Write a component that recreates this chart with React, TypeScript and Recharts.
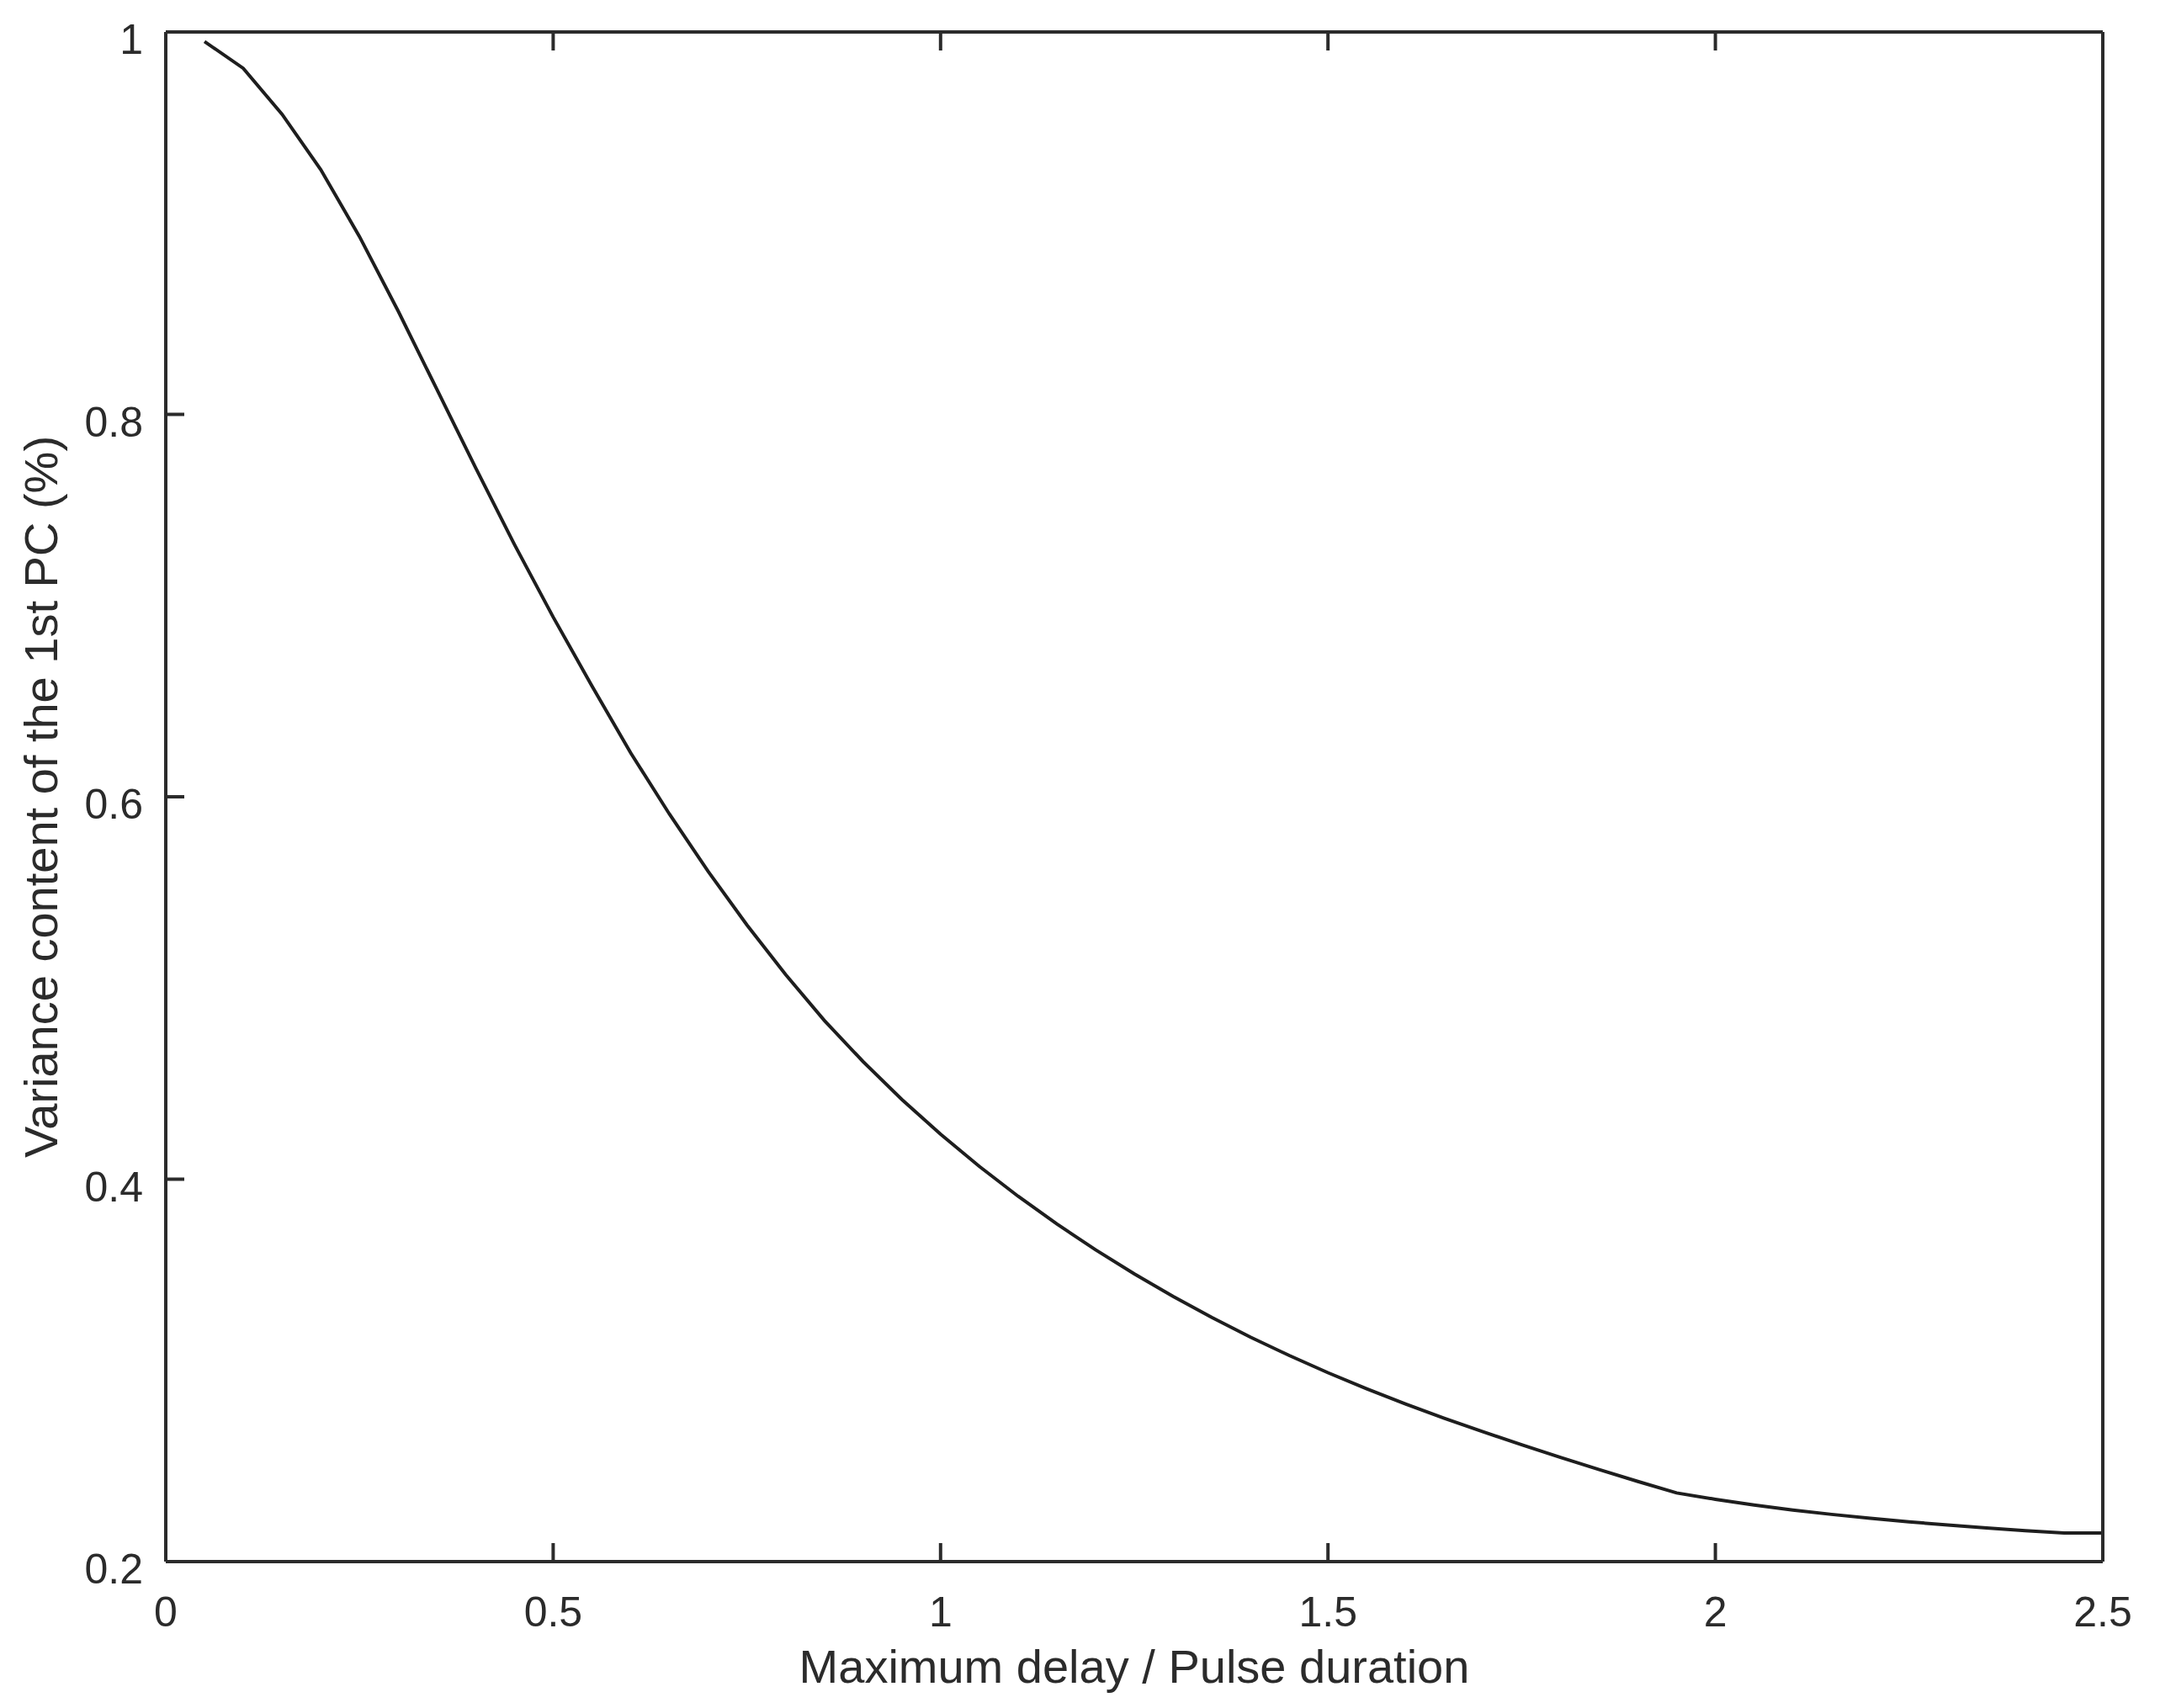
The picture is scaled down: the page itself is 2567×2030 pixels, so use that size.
import React from 'react';
import { LineChart, Line, XAxis, YAxis } from 'recharts';

// values
const delayRatio = [
  0.05, 0.1, 0.15, 0.2, 0.25, 0.3, 0.35, 0.4, 0.45, 0.5,
  0.55, 0.6, 0.65, 0.7, 0.75, 0.8, 0.85, 0.9, 0.95, 1.0,
  1.05, 1.1, 1.15, 1.2, 1.25, 1.3, 1.35, 1.4, 1.45, 1.5,
  1.55, 1.6, 1.65, 1.7, 1.75, 1.8, 1.85, 1.9, 1.95, 2.0,
  2.05, 2.1, 2.15, 2.2, 2.25, 2.3, 2.35, 2.4, 2.45, 2.5,
];
const varianceFirstPC = [
  0.995, 0.981, 0.957, 0.928, 0.893, 0.854, 0.813, 0.772, 0.732, 0.694,
  0.658, 0.623, 0.591, 0.561, 0.533, 0.507, 0.483, 0.4615, 0.4417, 0.4235,
  0.4067, 0.3911, 0.3766, 0.3631, 0.3505, 0.3387, 0.3277, 0.3174, 0.3078, 0.2988,
  0.2904, 0.2825, 0.275, 0.2679, 0.2611, 0.2545, 0.2481, 0.2419, 0.2359, 0.2326,
  0.2296, 0.227, 0.2247, 0.2227, 0.2208, 0.2191, 0.2176, 0.2162, 0.215, 0.215,
];
const xTicks = [0, 0.5, 1, 1.5, 2, 2.5];
const yTicks = [0.2, 0.4, 0.6, 0.8, 1];

const xTitle = 'Maximum delay / Pulse duration';
const yTitle = 'Variance content of the 1st PC (%)';

const data = delayRatio.map((x, i) => ({ x, y: varianceFirstPC[i] }));

const W = 2567;
const H = 2030;
// plot box: left 197, right 2499, top 38, bottom 1856 (axes take 1px each)
const margin = { top: 37, right: 67, bottom: 173, left: 196 };
const ink = '#2b2b2b';
const font = '"Liberation Sans", Arial, sans-serif';
const TICK = 22;
const frame = { stroke: ink, strokeWidth: 4 };

const BottomTick = (props: any) => {
  const { x, y, payload } = props;
  return (
    <g>
      <line x1={x} x2={x} y1={y} y2={y - TICK} stroke={ink} strokeWidth={4} />
      <text x={x} y={y + 77} textAnchor="middle" fontSize={50} fontFamily={font} fill={ink}>
        {String(payload.value)}
      </text>
    </g>
  );
};

const TopTick = (props: any) => {
  const { x, y } = props;
  return <line x1={x} x2={x} y1={y} y2={y + TICK} stroke={ink} strokeWidth={4} />;
};

const LeftTick = (props: any) => {
  const { x, y, payload } = props;
  return (
    <g>
      <line x1={x} x2={x + TICK} y1={y} y2={y} stroke={ink} strokeWidth={4} />
      <text x={x - 27} y={y + 26} textAnchor="end" fontSize={50} fontFamily={font} fill={ink}>
        {String(payload.value)}
      </text>
    </g>
  );
};

const RightTick = (props: any) => {
  const { x, y } = props;
  return <line x1={x} x2={x - TICK} y1={y} y2={y} stroke={ink} strokeWidth={4} />;
};

export default function App() {
  const plotLeft = margin.left + 1;
  const plotTop = margin.top + 1;
  const plotW = W - margin.right - 1 - plotLeft;
  const plotH = H - margin.bottom - 1 - plotTop;
  const cx = plotLeft + plotW / 2;
  const cy = plotTop + plotH / 2;
  return (
    <div style={{ width: W, height: H, background: '#fff' }}>
      <style>{'body{margin:0}'}</style>
      <LineChart width={W} height={H} data={data} margin={margin}>
        <XAxis
          dataKey="x"
          type="number"
          domain={[0, 2.5]}
          ticks={xTicks}
          height={1}
          tickSize={0}
          tickMargin={0}
          tickLine={false}
          axisLine={frame}
          tick={<BottomTick />}
          interval={0}
        />
        <XAxis
          xAxisId="top"
          orientation="top"
          dataKey="x"
          type="number"
          domain={[0, 2.5]}
          ticks={xTicks}
          height={1}
          tickSize={0}
          tickMargin={0}
          tickLine={false}
          axisLine={frame}
          tick={<TopTick />}
          interval={0}
        />
        <YAxis
          type="number"
          domain={[0.2, 1]}
          ticks={yTicks}
          width={1}
          tickSize={0}
          tickMargin={0}
          tickLine={false}
          axisLine={frame}
          tick={<LeftTick />}
          interval={0}
        />
        <YAxis
          yAxisId="right"
          orientation="right"
          type="number"
          domain={[0.2, 1]}
          ticks={yTicks}
          width={1}
          tickSize={0}
          tickMargin={0}
          tickLine={false}
          axisLine={frame}
          tick={<RightTick />}
          interval={0}
        />
        <Line
          type="linear"
          dataKey="y"
          stroke="#1e1e1e"
          strokeWidth={4}
          dot={false}
          isAnimationActive={false}
        />
        <text x={cx} y={2000} textAnchor="middle" fontSize={56} fontFamily={font} fill={ink}>
          {xTitle}
        </text>
        <text
          x={68}
          y={cy}
          transform={`rotate(-90, 68, ${cy})`}
          textAnchor="middle"
          fontSize={56}
          fontFamily={font}
          fill={ink}
        >
          {yTitle}
        </text>
      </LineChart>
    </div>
  );
}
